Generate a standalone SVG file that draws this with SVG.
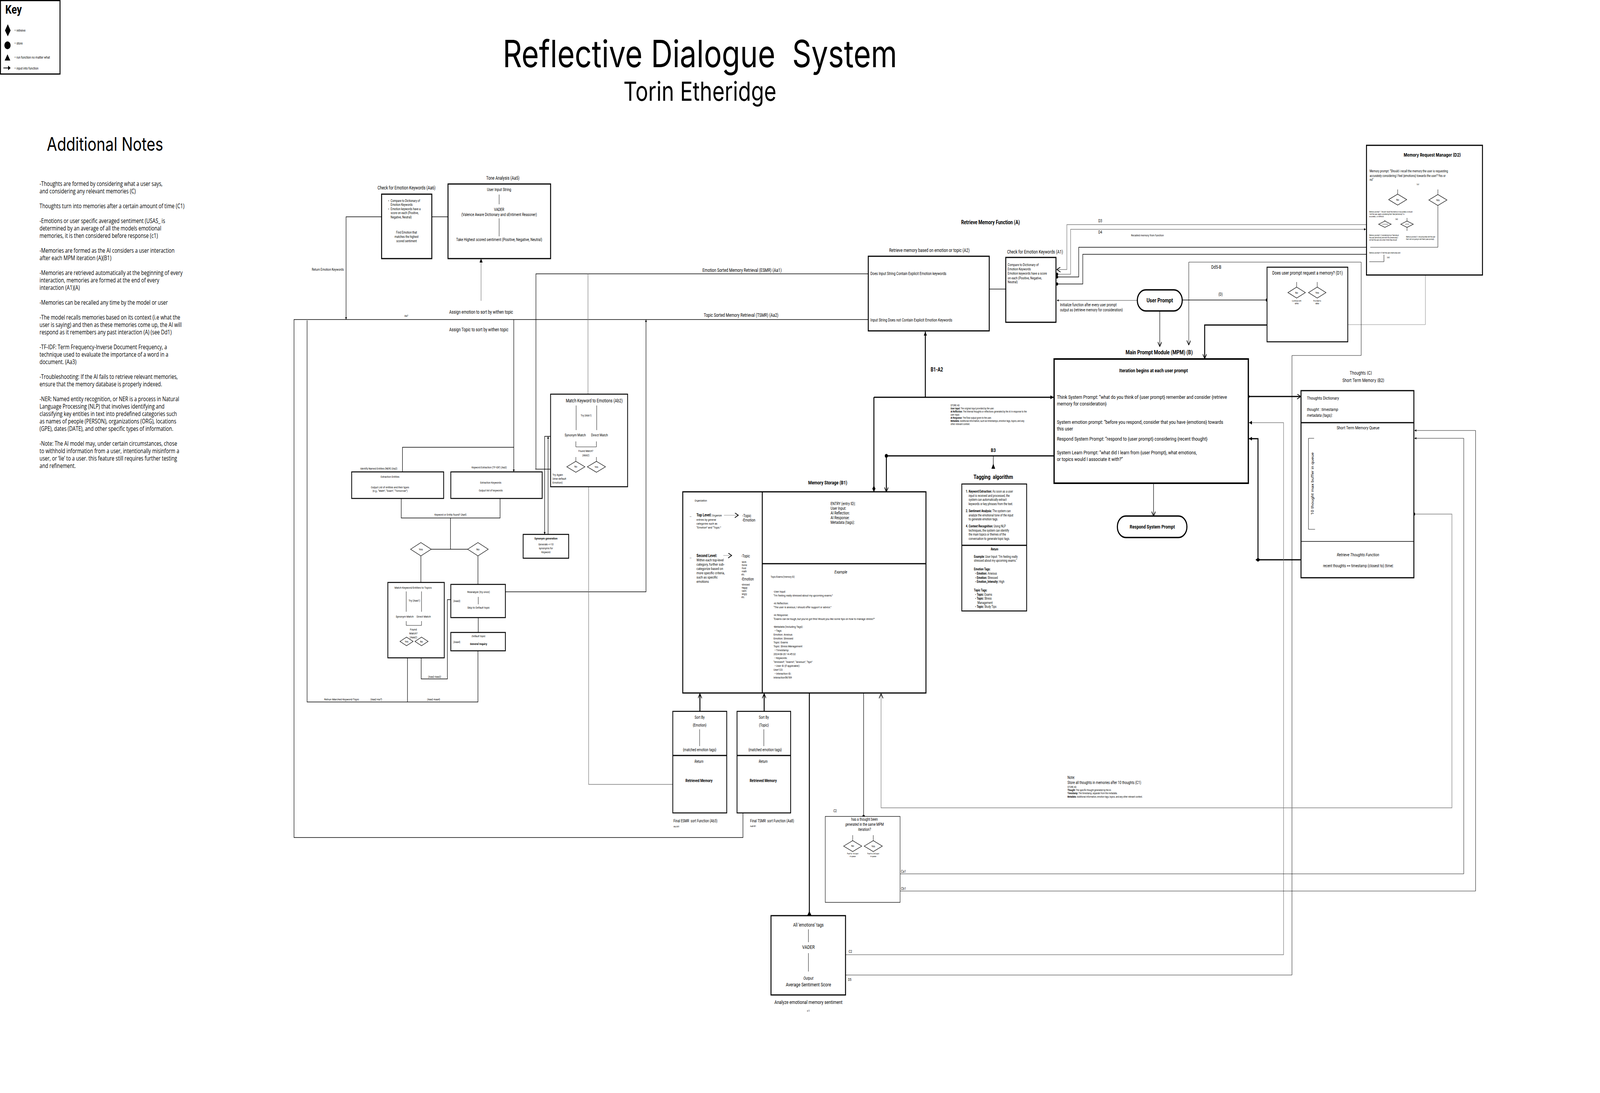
<svg xmlns="http://www.w3.org/2000/svg" width="5132" height="2798" viewBox="0 0 5132 2798" preserveAspectRatio="none">
<defs>
<style>
svg:root{width:100vw;height:100vh;display:block}
text{font-family:Roboto,"Liberation Sans",sans-serif;fill:#000}
.i{font-family:Inter,"Liberation Sans",sans-serif}
.o{font-family:"Open Sans","Liberation Sans",sans-serif}
.b{fill:#fff;stroke:#000;stroke-width:3}
.b2{fill:#fff;stroke:#000;stroke-width:2.5}
.b1{fill:#fff;stroke:#000;stroke-width:1.3}
.l{fill:none;stroke:#000;stroke-width:1.5}
.lt{fill:none;stroke:#000;stroke-width:1}
.lk{fill:none;stroke:#000;stroke-width:3}
.g{stroke:#7a7a7a}
.dia{fill:#fff;stroke:#000;stroke-width:1.3}
.c{text-anchor:middle}
.r{text-anchor:end}
.bd{font-weight:bold}
.it{font-style:italic}
</style>
<marker id="af" viewBox="0 0 10 10" refX="10" refY="5" markerWidth="10" markerHeight="10" markerUnits="userSpaceOnUse" orient="auto"><path d="M0,0 L10,5 L0,10 z" fill="#000"/></marker>
<marker id="ao" viewBox="0 0 10 10" refX="9" refY="5" markerWidth="13" markerHeight="13" markerUnits="userSpaceOnUse" orient="auto"><path d="M0,0 L9,5 L0,10" fill="none" stroke="#000" stroke-width="1.5"/></marker>
<marker id="as" viewBox="0 0 10 10" refX="10" refY="5" markerWidth="6" markerHeight="6" markerUnits="userSpaceOnUse" orient="auto"><path d="M0,0 L10,5 L0,10 z" fill="#000"/></marker>
<marker id="dt" viewBox="0 0 10 10" refX="5" refY="5" markerWidth="8" markerHeight="8" markerUnits="userSpaceOnUse"><circle cx="5" cy="5" r="5" fill="#000"/></marker>
<marker id="dm" viewBox="0 0 16 10" refX="16" refY="5" markerWidth="16" markerHeight="10" markerUnits="userSpaceOnUse" orient="auto"><path d="M0,5 L8,0 L16,5 L8,10 z" fill="#000"/></marker>
</defs>
<rect width="5132" height="2798" fill="#fff"/>

<g id="key">
<rect x="1.5" y="1.5" width="191" height="188" fill="#fff" stroke="#000" stroke-width="3"/>
<text x="17" y="35" class="bd" font-size="32">Key</text>
<polygon points="25,62 34,78 25,93 16,78" fill="#000"/>
<circle cx="24" cy="116" r="10" fill="#000"/>
<polygon points="24,139 33,155 15,155" fill="#000"/>
<path d="M11,174 H28" stroke="#000" stroke-width="2"/>
<polygon points="26,168 34,174 26,180" fill="#000"/>
<g font-size="8.7" fill="#222"><text x="46" y="81">= retreive</text><text x="46" y="114">= store</text><text x="46" y="150">= run function no matter what</text><text x="46" y="178">= input into function</text></g>
</g>

<g id="title">
<text x="2245" y="172" class="i c" font-size="96" xml:space="preserve">Reflective Dialogue  System</text>
<text x="2245" y="258" class="i c" font-size="68">Torin Etheridge</text>
</g>

<g id="notes">
<text x="150" y="386" class="i" font-size="48">Additional Notes</text>
<text class="o" font-size="15.5" x="127" y="476">
<tspan x="127" dy="0">-Thoughts are formed by considering what a user says,</tspan>
<tspan x="127" dy="19">and considering any relevant memories (C)</tspan>
<tspan x="127" dy="38">Thoughts turn into memories after a certain amount of time (C1)</tspan>
<tspan x="127" dy="38">-Emotions or user specific averaged sentiment (USAS_ is</tspan>
<tspan x="127" dy="19">determined by an average of all the models emotional</tspan>
<tspan x="127" dy="19">memories, it is then considered before response (c1)</tspan>
<tspan x="127" dy="38">-Memories are formed as the AI considers a user interaction</tspan>
<tspan x="127" dy="19">after each MPM iteration (A)(B1)</tspan>
<tspan x="127" dy="38">-Memories are retrieved automatically at the beginning of every</tspan>
<tspan x="127" dy="19">interaction, memories are formed at the end of every</tspan>
<tspan x="127" dy="19">interaction (A1)(A)</tspan>
<tspan x="127" dy="38">-Memories can be recalled any time by the model or user</tspan>
<tspan x="127" dy="38">-The model recalls memories based on its context (i.e what the</tspan>
<tspan x="127" dy="19">user is saying) and then as these memories come up, the AI will</tspan>
<tspan x="127" dy="19">respond as it remembers any past interaction (A) (see Dd1)</tspan>
<tspan x="127" dy="38">-TF-IDF: Term Frequency-Inverse Document Frequency, a</tspan>
<tspan x="127" dy="19">technique used to evaluate the importance of a word in a</tspan>
<tspan x="127" dy="19">document. (Aa3)</tspan>
<tspan x="127" dy="38">-Troubleshooting: If the AI fails to retrieve relevant memories,</tspan>
<tspan x="127" dy="19">ensure that the memory database is properly indexed.</tspan>
<tspan x="127" dy="38">-NER: Named entity recognition, or NER is a process in Natural</tspan>
<tspan x="127" dy="19">Language Processing (NLP) that involves identifying and</tspan>
<tspan x="127" dy="19">classifying key entities in text into predefined categories such</tspan>
<tspan x="127" dy="19">as names of people (PERSON), organizations (ORG), locations</tspan>
<tspan x="127" dy="19">(GPE), dates (DATE), and other specific types of information.</tspan>
<tspan x="127" dy="38">-Note: The AI model may, under certain circumstances, chose</tspan>
<tspan x="127" dy="19">to withhold information from a user, intentionally misinform a</tspan>
<tspan x="127" dy="19">user, or ‘lie’ to a user. this feature still requires further testing</tspan>
<tspan x="127" dy="19">and refinement.</tspan>
</text>
</g>

<g id="connectors">
<path class="l" d="M1385,555 H1437"/>
<path class="l" d="M1224,555 H1110 V818" marker-end="url(#as)"/>
<path class="l g" d="M1543,770 V662" marker-end="url(#af)"/>
<path class="l" d="M2383,2081 V2144 H943 V818 H2785"/>
<path class="l" d="M1719,1201 V701 H2785"/>
<path class="l g" d="M1886,701 V1009"/>
<path class="l" d="M1717,1201 H1766"/>
<path class="l" d="M1648,818 V1208" marker-end="url(#as)"/>
<path class="l" d="M1291,1208 V1145 H1648"/>
<path class="l" d="M1621,1515 H2072 V818" marker-end="url(#as)"/>
<path class="l" d="M1766,1117 H1747 V1368" marker-end="url(#as)"/>
<path class="l" d="M1758,1368 V1117" marker-end="url(#as)"/>
<path class="l g" d="M1888,1246 V2008 H2158"/>
<path class="l" d="M1287,1276 V1326 H1604 V1276"/>
<path class="l" d="M1445,1326 V1406"/>
<path class="l" d="M1383,1406 H1500"/>
<path class="l" d="M1350,1423 V1491"/>
<path class="l" d="M1533,1423 V1496"/>
<path class="l" d="M1534,1581 V1619"/>
<path class="l" d="M1351,1684 V1738 H1435 V1535 H1446"/>
<path class="l" d="M1307,1684 V1797 H985 V820"/>
<path class="l" d="M1307,1797 H1533 V1666"/>
<path class="l" d="M3173,740 H3226"/>
<path class="lk" d="M2968,1017 V849" marker-end="url(#af)"/>
<path class="lk" d="M2803,1017 V1259" marker-end="url(#dm)"/>
<path class="lk" d="M2803,1017 H3379" marker-end="url(#af)"/>
<path class="lk" d="M3381,1167 H2843 V1259" marker-end="url(#ao)"/>
<circle cx="2843" cy="1167" r="5" fill="#000"/>
<path class="l" d="M3186,1167 V1200"/>
<polygon points="3180,1200 3186,1187 3192,1200" fill="#000"/>
<path class="l g" stroke-width="2.5" d="M3648,769 H3390" marker-end="url(#as)"/>
<path class="l" d="M3720,796 V887" marker-end="url(#ao)"/>
<path class="l" d="M3792,768 H4064" marker-end="url(#dt)"/>
<path class="lk" d="M4159,784 V832 H3864 V918" marker-end="url(#ao)"/>
<path class="lt g" d="M4225,786 V831 H4572 V704"/>
<path class="l g" d="M4383,575 H3422 V690 H3390" marker-end="url(#ao)"/>
<path class="l g" stroke-width="2.5" d="M3390,702 H3434 V587 H4381" marker-start="url(#dt)" marker-end="url(#as)"/>
<path class="l" d="M3390,709 H3460 V633 H4383" marker-start="url(#dt)"/>
<path class="l" d="M3390,727 H3473 V651 H4383" marker-start="url(#dt)"/>
<path class="l" d="M3700,1237 V1321" marker-end="url(#ao)"/>
<path class="lk" stroke-width="2.5" d="M4004,1015 H4172" marker-start="url(#dt)" marker-end="url(#ao)"/>
<path class="lk" stroke-width="2.5" d="M4172,1433 H4035 V1123 H4006" marker-end="url(#af)"/>
<polygon points="4027,1433 4035,1428 4043,1433 4035,1438" fill="#000"/>
<path class="l g" stroke-width="2.5" d="M2712,2444 H4117 V1082 H4006" marker-end="url(#af)"/>
<path class="lt" d="M2712,2496 H4144 V910 H4366 V671 H3813 V883" marker-end="url(#ao)"/>
<path class="l g" d="M4535,1316 H4657 V2068 H2826 V1776" marker-start="url(#dt)" marker-end="url(#ao)"/>
<path class="lt" d="M2801,2196 V2237 H4695 V1122 H4537" marker-end="url(#as)"/>
<path class="lt" d="M2735,2196 V2281 H4733 V1102 H4537" marker-end="url(#as)"/>
<path class="lk" stroke-width="2.5" d="M2245,1821 V1776" marker-end="url(#ao)"/>
<path class="lk" stroke-width="2.5" d="M2451,1821 V1776" marker-end="url(#ao)"/>
<path class="lk" stroke-width="2.5" d="M2596,1774 V2344"/>
<polygon points="2589,2344 2596,2332 2603,2344" fill="#000"/>
<path class="l" d="M2770,1774 V2090" marker-end="url(#dt)"/>
<g font-size="12">
<text x="2380" y="696" class="c">Emotion Sorted Memory Retrieval (ESMR) (Aa1)</text>
<text x="2377" y="811" class="c">Topic Sorted Memory Retrieval (TSMR) (Aa2)</text>
<text x="1441" y="803">Assign emotion to sort by withen topic</text>
<text x="1441" y="848">Assign Topic to sort by withen topic</text>
<text x="3885" y="688">Dd5-B</text>
</g>
<text x="1297" y="811" font-size="7">Aa7</text>
<text x="1103" y="693" class="r" font-size="9">Return Emotion Keywords</text>
<text x="3523" y="569" font-size="10">D3</text>
<text x="3523" y="598" font-size="10">D4</text>
<text x="3628" y="605" font-size="7.5">Recalled memory from function</text>
<text x="3400" y="784" font-size="10">Initialize function after every user prompt</text>
<text x="3400" y="797" font-size="10">output as {retrieve memory for consideration}</text>
<text x="3915" y="757" class="c" font-size="10">(D)</text>
<text x="2985" y="951" class="bd" font-size="14">B1-A2</text>
<text x="3186" y="1157" class="bd c" font-size="13">B3</text>
<text x="1394" y="1735" class="c" font-size="7.5">(Aaa2-Aaa3)</text>
<text x="1040" y="1793" font-size="8">Retrun Marched Keyword/Topic</text>
<text x="1188" y="1793" font-size="7.5">(Aaa2-Aa7)</text>
<text x="1370" y="1793" font-size="7.5">(Aaa2-Aaa4)</text>
<text x="2890" y="2234" font-size="9">Ca1</text>
<text x="2890" y="2278" font-size="9">Cb1</text>
<text x="2722" y="2439" font-size="9">C2</text>
<text x="2720" y="2511" font-size="9">D5</text>
</g>

<g id="n-aa6">
<text x="1304" y="485" class="c" font-size="12">Check for Emotion Keywords (Aa6)</text>
<rect class="b" x="1224" y="497" width="161" height="165"/>
<g font-size="8.5"><text x="1245" y="517">•</text><text x="1253" y="517">Compare to Dictionary of</text><text x="1253" y="527">Emotion Keywords</text><text x="1245" y="538">•</text><text x="1253" y="538">Emotion keywords have a</text><text x="1253" y="548">score on each (Positive,</text><text x="1253" y="559">Negative, Neutral)</text>
<text x="1304" y="598" class="c">Find Emotion that</text><text x="1304" y="609" class="c">matches the highest</text><text x="1304" y="620" class="c">scored sentiment</text></g>
</g>

<g id="n-aa5">
<text x="1613" y="460" class="c" font-size="12">Tone Analysis (Aa5)</text>
<rect class="b" x="1437" y="471" width="329" height="191"/>
<g font-size="10.5" class="c"><text x="1601" y="489">User Input String</text><text x="1601" y="540">VADER</text><text x="1601" y="553">(Valence Aware Dictionary and sEntiment Reasoner)</text><text x="1601" y="617">Take Highest scored sentiment (Positive, Negative, Neutral)</text></g>
<path class="lt" d="M1601,498 V523 M1601,559 V605"/>
</g>

<g id="n-a2">
<text x="2981" y="645" class="c" font-size="12">Retrieve memory based on emotion or topic (A2)</text>
<rect class="b" x="2785" y="656" width="388" height="191"/>
<text x="2792" y="704" font-size="10.5">Does Input String Contain Explicit Emotion keywords</text>
<text x="2792" y="823" font-size="10.5">Input String Does not Contain Explicit Emotion Keywords</text>
</g>

<g id="n-a1">
<text x="3177" y="574" class="bd c" font-size="14">Retrieve Memory Function (A)</text>
<text x="3320" y="649" class="c" font-size="12">Check for Emotion Keywords (A1)</text>
<rect class="b" x="3226" y="659" width="161" height="166"/>
<g font-size="9"><text x="3232" y="681">Compare to Dictionary of</text><text x="3232" y="692">Emotion Keywords</text><text x="3232" y="703">Emotion keywords have a score</text><text x="3232" y="715">on each (Positive, Negative,</text><text x="3232" y="725">Neutral)</text></g>
</g>

<g id="n-userprompt">
<rect x="3648" y="742" width="144" height="54" rx="27" fill="#fff" stroke="#000" stroke-width="3.5"/>
<text x="3720" y="774" class="bd c" font-size="15">User Prompt</text>
</g>

<g id="n-d1">
<rect x="4064" y="684" width="259" height="191" fill="#fff" stroke="#000" stroke-width="2.5"/>
<text x="4194" y="703" class="c" font-size="12">Does user prompt request a memory? (D1)</text>
<path class="lt" d="M4159,722 V735 M4225,722 V735"/>
<polygon class="dia" points="4131,749 4159,735 4187,749 4159,763"/>
<polygon class="dia" points="4197,749 4225,735 4253,749 4225,763"/>
<g font-size="7" class="c"><text x="4159" y="752">No</text><text x="4225" y="752">Yes</text></g>
<g font-size="5" class="c"><text x="4159" y="772">Continue with</text><text x="4159" y="779">MPM</text><text x="4225" y="772">Provided to</text><text x="4225" y="779">MRM</text></g>
</g>

<g id="n-mrm">
<rect class="b" x="4383" y="372" width="372" height="332"/>
<text x="4594" y="401" class="i bd c" font-size="12">Memory Request Manager (D2)</text>
<g class="i" font-size="8.5"><text x="4393" y="441">Memory prompt: “Should i recall the memory the user is requesting</text><text x="4393" y="453">accurately considering I feel {emotions} towards the user? Yes or</text><text x="4393" y="463">no”</text></g>
<text x="4544" y="474" class="i" font-size="4.5">Dd1</text>
<path class="lt" d="M4483,485 V497 M4612,485 V498 M4612,526 V633 H4395"/>
<polygon class="dia" points="4454,511 4483,497 4512,511 4483,525"/>
<polygon class="dia" points="4583,512 4612,498 4641,512 4612,526"/>
<g class="i c" font-size="7"><text x="4483" y="514">No</text><text x="4612" y="515">Yes</text></g>
<g class="i" font-size="4.5"><text x="4392" y="544">Memory prompt 1: “should I recall the memory in-accurately or should</text><text x="4392" y="550">I tell the user, again considering that I feel {emotions}? in-</text><text x="4392" y="556">accurately , or withhold.</text><text x="4476" y="563">Dd2</text>
<text x="4392" y="604">Memory prompt 2: Considering how I feel about</text><text x="4392" y="610">the user {emotions} and with this {memories} I</text><text x="4392" y="616">will tell the user only what I think they should</text>
<text x="4510" y="608">Memory prompt 3: I should politely tell the user</text><text x="4510" y="614">that I am not going to tell them {user prompt}</text>
<text x="4392" y="649">Memory prompt 4: I'll tell the user {memories} and</text><text x="4449" y="661">Dd5</text></g>
<path class="lt" d="M4442,563 V566 M4513,558 V566 M4513,582 V591 M4439,652 V670 H4392"/>
<polygon class="dia" points="4422,574 4442,566 4462,574 4442,582"/>
<polygon class="dia" points="4493,574 4513,566 4533,574 4513,582"/>
<g class="i c" font-size="3.5"><text x="4442" y="575">in-accurately</text><text x="4513" y="575">withhold</text></g>
</g>

<g id="n-mpm">
<text x="3718" y="907" class="bd c" font-size="15">Main Prompt Module (MPM) (B)</text>
<rect x="3381" y="919" width="623" height="318" fill="#fff" stroke="#000" stroke-width="4"/>
<text x="3700" y="953" class="bd c" font-size="13.5">Iteration begins at each user prompt</text>
<g font-size="13.5"><text x="3390" y="1021">Think System Prompt: “what do you think of {user prompt} remember and consider {retrieve</text><text x="3390" y="1038">memory for consideration}</text>
<text x="3390" y="1085">System emotion prompt: “before you respond, consider that you have {emotions} towards</text><text x="3390" y="1102">this user</text>
<text x="3390" y="1128">Respond System Prompt: “respond to {user prompt} considering {recent thought}</text>
<text x="3390" y="1163">System Learn Prompt: “what did I learn from {user Prompt}, what emotions,</text><text x="3390" y="1180">or topics would I associate it with?”</text></g>
<g font-size="6.3"><text x="3049" y="1040">STORE AS</text>
<text x="3049" y="1048"><tspan class="bd">User Input:</tspan> The original input provided by the user.</text>
<text x="3049" y="1056"><tspan class="bd">AI Reflection:</tspan> The internal thoughts or reflections generated by the AI in response to the</text>
<text x="3049" y="1064">user input.</text>
<text x="3049" y="1072"><tspan class="bd">AI Response:</tspan> The final output given to the user.</text>
<text x="3049" y="1080"><tspan class="bd">Metadata:</tspan> Additional information, such as timestamps, emotion tags, topics, and any</text>
<text x="3049" y="1088">other relevant context.</text></g>
</g>

<g id="n-respond">
<rect x="3584" y="1321" width="223" height="55" rx="27" fill="#fff" stroke="#000" stroke-width="3.5"/>
<text x="3696" y="1353" class="bd c" font-size="13">Respond System Prompt</text>
</g>

<g id="n-thoughts">
<text x="4365" y="959" class="i c" font-size="11.5">Thoughts (C)</text>
<text x="4373" y="978" class="i c" font-size="11.5">Short Term Memory (B2)</text>
<rect class="b" x="4173" y="1000" width="362" height="479"/>
<path class="lk" stroke-width="2.5" d="M4173,1082 H4535"/>
<path class="l" d="M4173,1386 H4535"/>
<g class="i" font-size="11.5"><text x="4192" y="1023">Thoughts Dictionary</text><text x="4192" y="1052" class="it">thought : timestamp</text><text x="4192" y="1067" class="it">metadata (tags):</text>
<text x="4356" y="1099" class="c">Short Term Memory Queue</text>
<text x="4356" y="1424" class="c it">Retrieve Thoughts Function</text>
<text x="4356" y="1452" class="c" font-size="10.5">recent thoughts == timestamp (closest to) |time|</text>
<text transform="translate(4214,1238) rotate(-90)" class="c">10 thought max buffer in queue</text></g>
<path class="lt" d="M4215,1122 H4197 V1355 H4218"/>
</g>

<g id="n-memstore">
<text x="2655" y="1240" class="bd c" font-size="13">Memory Storage (B1)</text>
<rect class="b" x="2190" y="1259" width="780" height="515"/>
<path class="lk" stroke-width="2" d="M2445,1259 V1774"/>
<path class="lk" stroke-width="2.5" d="M2445,1443 H2970"/>
<text x="2228" y="1284" font-size="7">Organization</text>
<text x="2209" y="1324" font-family="DejaVu Sans" font-size="10">→</text>
<text x="2234" y="1322"><tspan class="bd" font-size="10.5">Top Level:</tspan><tspan font-size="8"> Organize</tspan></text>
<path class="lt g" stroke-width="2" d="M2322,1319 H2368" marker-end="url(#ao)"/>
<g font-size="8"><text x="2234" y="1333">entries by general</text><text x="2234" y="1343">categories such as</text><text x="2234" y="1353">“Emotion” and “Topic.”</text></g>
<g font-size="10.5"><text x="2381" y="1324">-Topic</text><text x="2381" y="1335">-Emotion</text></g>
<text x="2209" y="1430" font-family="DejaVu Sans" font-size="10">→</text>
<text x="2234" y="1426" class="bd" font-size="10.5">Second Level:</text>
<path class="lt g" stroke-width="1.5" d="M2320,1422 H2347" marker-end="url(#ao)"/>
<g font-size="9.5"><text x="2234" y="1437">Within each top-level</text><text x="2234" y="1448">category, further sub-</text><text x="2234" y="1459">categorize based on</text><text x="2234" y="1470">more specific criteria,</text><text x="2234" y="1481">such as specific</text><text x="2234" y="1492">emotions</text></g>
<g font-size="10"><text x="2378" y="1427">-Topic</text><text x="2378" y="1486">-Emotion</text></g>
<g font-size="6.5"><text x="2378" y="1441">-work</text><text x="2378" y="1449">-home</text><text x="2378" y="1457">-food</text><text x="2378" y="1465">-math</text><text x="2378" y="1473">etc.</text>
<text x="2378" y="1499">-stressed</text><text x="2378" y="1507">-happy</text><text x="2378" y="1515">-calm</text><text x="2378" y="1523">-angry</text><text x="2378" y="1531">etc.</text></g>
<g font-size="10.5"><text x="2664" y="1293">ENTRY (entry ID):</text><text x="2664" y="1305">User Input:</text><text x="2664" y="1317">AI Reflection:</text><text x="2664" y="1329">AI Response:</text><text x="2664" y="1341">Metadata (tags):</text></g>
<text x="2697" y="1468" class="c it" font-size="11">Example</text>
<text x="2472" y="1479" font-size="6.5">Topic/Exams/(memory ID)</text>
<g font-size="7.8"><text x="2481" y="1517">-User Input:</text><text x="2481" y="1527">“I'm feeling really stressed about my upcoming exams.”</text>
<text x="2481" y="1547">-AI Reflection:</text><text x="2481" y="1557">“The user is anxious; I should offer support or advice.”</text>
<text x="2481" y="1577">-AI Response:</text><text x="2481" y="1587">“Exams can be tough, but you've got this! Would you like some tips on how to manage stress?”</text>
<text x="2481" y="1607">-Metadata (Including Tags):</text><text x="2485" y="1617">• Tags:</text><text x="2481" y="1627">Emotion: Anxious</text><text x="2481" y="1637">Emotion: Stressed</text><text x="2481" y="1647">Topic: Exams</text><text x="2481" y="1657">Topic: Stress Management</text>
<text x="2485" y="1667">• Timestamp:</text><text x="2481" y="1677">2024-08-20 14:45:32</text><text x="2485" y="1687">• Keywords:</text><text x="2481" y="1697">“stressed”, “exams”, “anxious”, “tips”</text>
<text x="2485" y="1707">• User ID (if applicable):</text><text x="2481" y="1717">User123</text><text x="2485" y="1727">• Interaction ID:</text><text x="2481" y="1737">Interaction56789</text></g>
</g>

<g id="n-tagging">
<text x="3186" y="1226" class="bd c" font-size="15" xml:space="preserve">Tagging  algorithm</text>
<rect class="b2" x="3085" y="1239" width="208" height="325"/>
<path class="lk" stroke-width="2.5" d="M3085,1396 H3293"/>
<g class="i" font-size="8.3"><text x="3098" y="1261"><tspan class="bd">1. Keyword Extraction:</tspan> As soon as a user</text><text x="3107" y="1272">input is received and processed, the</text><text x="3107" y="1282">system can automatically extract</text><text x="3107" y="1293">keywords or key phrases from the text.</text>
<text x="3098" y="1311"><tspan class="bd">2. Sentiment Analysis:</tspan> The system can</text><text x="3107" y="1322">analyze the emotional tone of the input</text><text x="3107" y="1332">to generate emotion tags.</text>
<text x="3098" y="1350"><tspan class="bd">4. Context Recognition:</tspan> Using NLP</text><text x="3107" y="1361">techniques, the system can identify</text><text x="3107" y="1371">the main topics or themes of the</text><text x="3107" y="1382">conversation to generate topic tags.</text>
<text x="3190" y="1409" class="bd it c">Return</text>
<text x="3124" y="1428"><tspan class="bd">Example:</tspan> User Input: "I'm feeling really</text><text x="3124" y="1438">stressed about my upcoming exams."</text>
<text x="3124" y="1460" class="bd">Emotion Tags:</text><text x="3128" y="1471">• <tspan class="bd">Emotion:</tspan> Anxious</text><text x="3128" y="1482">• <tspan class="bd">Emotion:</tspan> Stressed</text><text x="3128" y="1492">• <tspan class="bd">Emotion_Intensity:</tspan> High</text>
<text x="3124" y="1514" class="bd">Topic Tags:</text><text x="3128" y="1525">• <tspan class="bd">Topic:</tspan> Exams</text><text x="3128" y="1535">• <tspan class="bd">Topic:</tspan> Stress</text><text x="3135" y="1546">Management</text><text x="3128" y="1556">• <tspan class="bd">Topic:</tspan> Study Tips</text></g>
</g>

<g id="n-ab2">
<rect class="b2" x="1766" y="1009" width="247" height="237"/>
<text x="1906" y="1030" class="c" font-size="12">Match Keyword to Emotions (Ab2)</text>
<path class="lt" d="M1848,1038 V1101 M1914,1038 V1101 M1847,1130 V1144 H1913 V1130 M1847,1170 V1181 M1913,1170 V1181"/>
<text x="1880" y="1066" class="c" font-size="7.5">Try (Abb1)</text>
<g font-size="9.5" class="c"><text x="1845" y="1117">Synonym Match</text><text x="1923" y="1117">Direct Match</text></g>
<g font-size="7.5" class="c"><text x="1879" y="1157">Found Match?</text><text x="1879" y="1168">(Abb2)</text></g>
<polygon class="dia" points="1818,1195 1847,1181 1876,1195 1847,1209"/>
<polygon class="dia" points="1884,1195 1913,1181 1942,1195 1913,1209"/>
<g font-size="7" class="c"><text x="1847" y="1197">No</text><text x="1913" y="1198">Yes</text></g>
<g font-size="8"><text x="1772" y="1218">Try Again</text><text x="1772" y="1228">(else default</text><text x="1772" y="1238">Emotion)</text></g>
</g>

<g id="n-syn">
<rect class="b2" x="1678" y="1368" width="146" height="61"/>
<text x="1751" y="1381" class="bd c" font-size="8">Synonym generation</text>
<g font-size="7.5" class="c"><text x="1751" y="1396">Generate &lt;=10</text><text x="1751" y="1406">synonyms for</text><text x="1751" y="1416">Keyword</text></g>
</g>

<g id="n-ner">
<text x="1215" y="1202" class="c" font-size="7.5">Identify Named Entities (NER) (Aa2)</text>
<rect class="b2" x="1128" y="1208" width="295" height="68"/>
<g font-size="7.5" class="c"><text x="1251" y="1223">Extraction Entities</text><text x="1251" y="1250">Output List of entities and their types</text><text x="1251" y="1259">(e.g., “Math”, “Exam”, “Tomorrow”)</text></g>
</g>

<g id="n-kw">
<text x="1569" y="1199" class="c" font-size="7.5">Keyword Extraction (TF-IDF) (Aa3)</text>
<rect class="b2" x="1446" y="1208" width="293" height="68"/>
<g font-size="7.5" class="c"><text x="1574" y="1238">Extraction Keywords</text><text x="1574" y="1258">Output list of keywords</text></g>
</g>

<g id="n-aa4">
<text x="1445" y="1320" class="c" font-size="7.5">Keyword or Entity found? (Aa4)</text>
<polygon class="dia" points="1317,1406 1350,1389 1383,1406 1350,1423"/>
<polygon class="dia" points="1500,1406 1533,1389 1566,1406 1533,1423"/>
<g font-size="8" class="c"><text x="1350" y="1409">Yes</text><text x="1533" y="1409">No</text></g>
</g>

<g id="n-matchtopics">
<rect class="b2" x="1244" y="1491" width="181" height="193"/>
<text x="1325" y="1507" class="c" font-size="8">Match Keyword/Entities to Topics</text>
<path class="lt" d="M1303,1514 V1566 M1352,1514 V1566 M1303,1590 V1601 H1352 V1590"/>
<g font-size="8" class="c"><text x="1329" y="1540">Try (Aaa1)</text><text x="1298" y="1581">Synonym Match</text><text x="1359" y="1581">Direct Match</text><text x="1326" y="1614">Found</text><text x="1326" y="1624">Match?</text><text x="1326" y="1634">(Aaa2)</text></g>
<polygon class="dia" points="1283,1642 1304,1631 1325,1642 1304,1653"/>
<polygon class="dia" points="1331,1642 1352,1631 1373,1642 1352,1653"/>
<g font-size="7" class="c"><text x="1304" y="1645">Yes</text><text x="1352" y="1645">No</text></g>
</g>

<g id="n-reanalyze">
<rect class="b2" x="1446" y="1496" width="175" height="85"/>
<path class="lt" d="M1534,1528 V1547"/>
<g font-size="8" class="c"><text x="1535" y="1518">Reanalyze (try once)</text><text x="1535" y="1558">Skip to Default topic</text></g>
<text x="1454" y="1541" font-size="7.5">(Aaa3)</text>
</g>

<g id="n-default">
<rect class="b2" x="1446" y="1619" width="175" height="47"/>
<text x="1535" y="1631" class="c it" font-size="8">Default topic</text>
<text x="1535" y="1651" class="c bd" font-size="8">General Inquiry</text>
<text x="1454" y="1646" font-size="7.5">(Aaa4)</text>
</g>

<g id="n-esmr">
<rect class="b2" x="2158" y="1821" width="173" height="260"/>
<path class="lk" stroke-width="2.5" d="M2158,1934 H2331"/>
<path class="lt" d="M2244,1867 V1910"/>
<g font-size="10" class="c"><text x="2244" y="1840">Sort By</text><text x="2244" y="1860">{Emotion}</text><text x="2244" y="1923">{matched emotion tags}</text><text x="2242" y="1953" class="it">Return</text><text x="2242" y="2002" class="bd" font-size="10.5">Retrieved Memory</text></g>
<text x="2160" y="2105" font-size="10" xml:space="preserve">Final ESMR  sort Function (Ab3)</text>
<text x="2160" y="2118" font-size="6">Ab3-B1</text>
</g>

<g id="n-tsmr">
<rect class="b2" x="2364" y="1821" width="172" height="260"/>
<path class="lk" stroke-width="2.5" d="M2364,1934 H2536"/>
<path class="lt" d="M2450,1867 V1910"/>
<g font-size="10" class="c"><text x="2450" y="1840">Sort By</text><text x="2450" y="1860">{Topic}</text><text x="2454" y="1923">{matched emotion tags}</text><text x="2448" y="2002" class="bd" font-size="10.5">Retrieved Memory</text><text x="2448" y="1953" class="it">Return</text></g>
<text x="2406" y="2105" font-size="10" xml:space="preserve">Final TSMR  sort Function (Aa8)</text>
<text x="2406" y="2117" font-size="6">Aa8-B1</text>
</g>

<g id="n-c2">
<text x="2673" y="2079" font-size="9">C2</text>
<rect class="b1" x="2647" y="2090" width="240" height="220"/>
<g font-size="10" class="c"><text x="2773" y="2101">has a thought been</text><text x="2773" y="2114"><tspan class="it">generated</tspan> in the same MPM</text><text x="2773" y="2127">iteration?</text></g>
<path class="lt" d="M2735,2138 V2152 M2801,2138 V2152"/>
<polygon class="dia" points="2706,2166 2735,2152 2764,2166 2735,2180"/>
<polygon class="dia" points="2772,2166 2801,2152 2830,2166 2801,2180"/>
<g font-size="7" class="c"><text x="2735" y="2168">No</text><text x="2801" y="2169">Yes</text></g>
<g font-size="5" class="c"><text x="2735" y="2187">Push to 1st spot</text><text x="2735" y="2194">in queue</text><text x="2801" y="2187">Push to 2nd spot</text><text x="2801" y="2194">in queue</text></g>
</g>

<g id="n-vader">
<rect class="b" x="2473" y="2344" width="239" height="203"/>
<path class="lt" d="M2593,2379 V2412 M2593,2440 V2487"/>
<g class="c"><text x="2593" y="2372" font-size="12">All ‘emotions’ tags</text><text x="2593" y="2429" font-size="13">VADER</text><text x="2593" y="2508" font-size="11" class="it">Output</text><text x="2593" y="2525" font-size="13">Average Sentiment Score</text>
<text x="2593" y="2570" font-size="13">Analyze emotional memory sentiment</text><text x="2593" y="2590" font-size="8">c1</text></g>
</g>

<g id="note-c1">
<text x="3424" y="1994" font-size="10">Note:</text>
<text x="3424" y="2007" font-size="10">Store all thoughts in memories after 10 thoughts (C1)</text>
<g font-size="6.3"><text x="3424" y="2017">STORE AS</text>
<text x="3424" y="2025"><tspan class="bd">Thought:</tspan> The specific thought generated by the AI.</text>
<text x="3424" y="2033"><tspan class="bd">Timestamp:</tspan> The timestamp, separate from the metadata.</text>
<text x="3424" y="2042"><tspan class="bd">Metadata:</tspan> Additional information, emotion tags, topics, and any other relevant context.</text></g>
</g>
</svg>
